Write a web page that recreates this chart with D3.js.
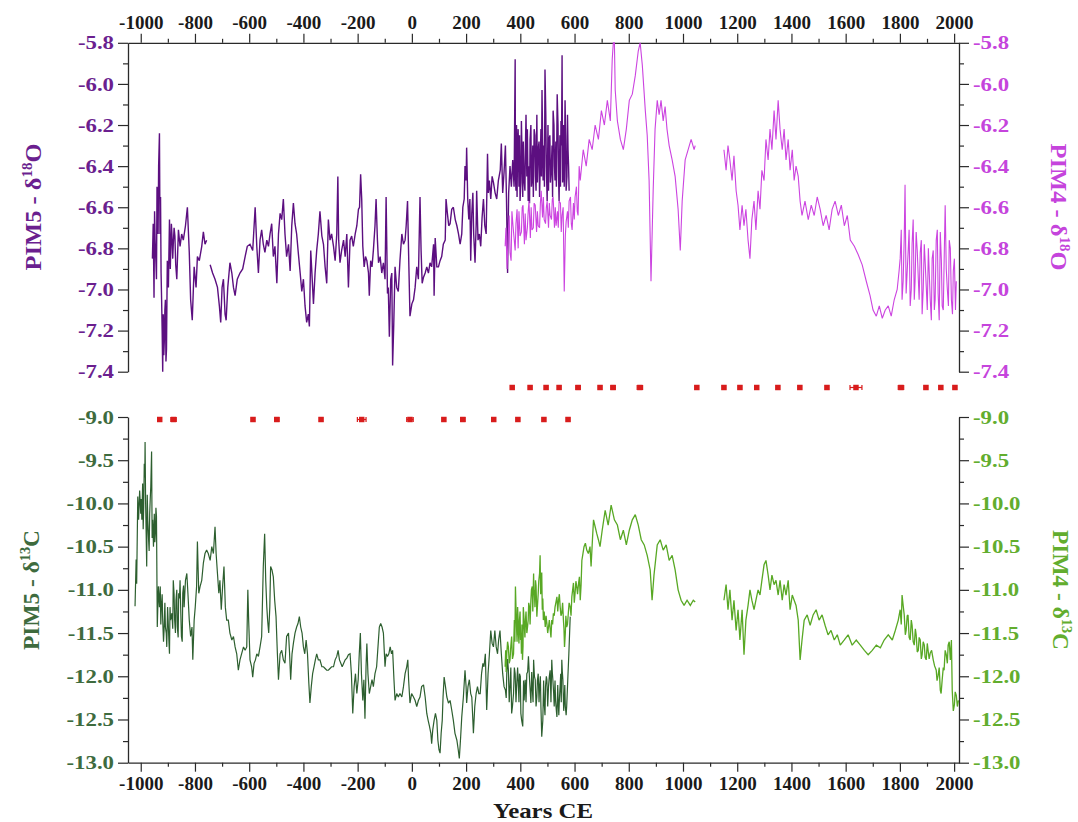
<!DOCTYPE html>
<html><head><meta charset="utf-8">
<script src="https://cdn.jsdelivr.net/npm/d3@7"></script>
<style>
body{margin:0;background:#fff;}
svg{display:block;font-family:"Liberation Serif","Times New Roman",serif;font-weight:bold;}
</style></head><body><svg id="c" width="1078" height="822"></svg>
<script>
// ---------------- DATA ----------------
const xMajorTicks = d3.range(-1000, 2001, 200);
const xMinorTicks = d3.range(-900, 2001, 200);
const o18Ticks = [-5.8,-6.0,-6.2,-6.4,-6.6,-6.8,-7.0,-7.2,-7.4];
const o18Minor = [-5.9,-6.1,-6.3,-6.5,-6.7,-6.9,-7.1,-7.3];
const c13Ticks = [-9.0,-9.5,-10.0,-10.5,-11.0,-11.5,-12.0,-12.5,-13.0];
const c13Minor = [-9.25,-9.75,-10.25,-10.75,-11.25,-11.75,-12.25,-12.75];

// PIM5 d18O [year CE, permil]
const pim5_d18O = [[-954,-6.68],[-951,-7.04],[-947,-6.76],[-944,-6.87],[-940,-6.50],[-936,-6.73],[-934,-6.40],[-931,-6.24],[-929,-6.73],[-925,-6.92],[-921,-7.20],[-919,-7.40],[-917,-7.12],[-913,-7.25],[-909,-7.05],[-905,-7.29],[-902,-6.86],[-898,-6.99],[-894,-6.66],[-889,-6.79],[-885,-6.73],[-880,-6.78],[-874,-6.74],[-867,-6.95],[-861,-6.71],[-855,-6.79],[-849,-6.73],[-843,-6.76],[-835,-6.69],[-828,-6.60],[-821,-6.82],[-816,-7.05],[-810,-7.15],[-803,-6.89],[-796,-6.99],[-791,-6.84],[-784,-6.86],[-775,-6.79],[-769,-6.72],[-763,-6.78],[-757,-6.76],[-750,null],
[-744,-6.88],[-735,-6.92],[-726,-6.95],[-717,-6.99],[-710,-7.08],[-705,-7.16],[-700,-6.99],[-695,-6.95],[-689,-7.12],[-685,-7.15],[-679,-6.99],[-671,-6.87],[-664,-6.92],[-658,-6.99],[-652,-7.03],[-644,-6.95],[-634,-6.92],[-624,-6.90],[-615,-6.84],[-607,-6.79],[-597,-6.78],[-587,-6.81],[-578,-6.60],[-572,-6.79],[-566,-6.92],[-560,-6.76],[-554,-6.71],[-548,-6.78],[-542,-6.82],[-535,-6.76],[-529,-6.79],[-523,-6.73],[-517,-6.68],[-511,-6.84],[-505,-6.79],[-498,-6.97],[-492,-6.73],[-486,-6.63],[-480,-6.66],[-474,-6.56],[-468,-6.73],[-462,-6.84],[-455,-6.78],[-449,-6.91],[-443,-6.69],[-437,-6.58],[-431,-6.68],[-425,-6.73],[-419,-6.82],[-412,-6.92],[-406,-7.01],[-400,-6.95],[-394,-7.08],[-388,-7.16],[-382,-7.12],[-378,-7.18],[-373,-6.81],[-368,-6.94],[-363,-7.07],[-357,-6.92],[-351,-6.81],[-345,-6.73],[-339,-6.62],[-332,-6.74],[-326,-6.78],[-320,-6.89],[-314,-6.97],[-308,-6.66],[-302,-6.76],[-296,-6.73],[-289,-6.79],[-283,-6.86],[-277,-6.73],[-273,-6.45],[-270,-6.76],[-265,-6.87],[-259,-6.81],[-252,-6.76],[-246,-6.84],[-240,-6.73],[-234,-6.99],[-228,-6.76],[-222,-6.74],[-216,-6.79],[-209,-6.73],[-203,-6.69],[-197,-6.61],[-193,-6.60],[-189,-6.44],[-185,-6.56],[-181,-6.79],[-176,-6.89],[-171,-6.84],[-166,-6.86],[-160,-6.92],[-157,-7.03],[-152,-6.86],[-147,-6.89],[-142,-6.81],[-136,-6.69],[-132,-6.56],[-127,-6.76],[-123,-6.87],[-117,-6.84],[-111,-6.92],[-105,-6.87],[-99,-6.95],[-95,-6.55],[-90,-7.02],[-87,-6.99],[-83,-7.23],[-78,-6.95],[-74,-6.92],[-71,-7.37],[-67,-7.18],[-62,-6.89],[-56,-6.99],[-50,-7.01],[-44,-6.86],[-37,-6.73],[-31,-6.78],[-25,-6.76],[-21,-6.69],[-16,-6.57],[-11,-6.89],[-7,-7.13],[0,-7.07],[6,-7.05],[12,-6.99],[18,-6.89],[24,-6.95],[30,-6.55],[34,-6.81],[38,-6.97],[43,-6.94],[49,-6.92],[55,-6.89],[61,-6.92],[67,-6.87],[73,-6.89],[80,-6.78],[82,-7.03],[86,-6.75],[92,-6.89],[98,-6.89],[104,-6.86],[110,-6.84],[116,-6.78],[123,-6.76],[126,-6.56],[131,-6.63],[136,-6.69],[141,-6.68],[147,-6.61],[153,-6.60],[160,-6.66],[166,-6.69],[172,-6.73],[178,-6.78],[184,-6.73],[188,-6.60],[193,-6.56],[196,-6.40],[200,-6.47],[202,-6.31],[206,-6.56],[210,-6.66],[214,-6.56],[217,-6.86],[221,-6.63],[225,-6.53],[228,-6.73],[233,-6.87],[237,-6.69],[239,-6.52],[244,-6.76],[249,-6.73],[254,-6.79],[259,-6.65],[264,-6.56],[269,-6.69],[274,-6.73],[279,-6.34],[282,-6.53],[286,-6.47],[291,-6.56],[296,-6.45],[301,-6.48],[307,-6.53],[313,-6.56],[319,-6.47],[326,-6.42],[330,-6.29],[335,-6.53],[340,-6.43],[345,-6.30],[349,-6.56],[353,-6.92],[357,-6.53],[362,-6.40],[367,-6.50],[372,-6.37],[377,-6.50],[381,-5.88],[384,-6.52],[392,-6.22],[399,-6.57],[406,-6.32],[414,-6.47],[421,-6.15],[429,-6.57],[436,-6.27],[443,-6.47],[451,-6.22],[458,-6.52],[466,-6.32],[473,-6.42],[480,-6.03],[484,-6.47],[491,-5.93],[499,-6.57],[506,-6.27],[514,-6.42],[521,-6.13],[528,-6.47],[536,-6.05],[543,-6.57],[550,-6.18],[554,-5.86],[558,-6.42],[565,-6.08],[569,-6.52],[576,-6.32],[580,-6.52]];
// extra readings in the densely sampled parts of PIM5 d18O
const pim5_d18O_dense = [[-957,-6.85],[-949,-6.62],[-942,-6.95],[-938,-6.60],[-927,-6.55],[-923,-7.05],[-915,-7.32],[-911,-7.10],[-907,-7.35],[-903,-7.00],[-896,-6.82],[-891,-6.90],[-887,-6.68],[-882,-6.85],[-877,-6.70],[-871,-6.88],[382,-6.45],[386,-6.20],[388,-6.55],[390,-6.30],[395,-6.50],[397,-6.25],[402,-6.48],[404,-6.18],[409,-6.55],[411,-6.28],[417,-6.52],[419,-6.30],[424,-6.45],[426,-6.22],[432,-6.40],[434,-6.58],[439,-6.20],[441,-6.50],[446,-6.30],[448,-6.55],[454,-6.25],[456,-6.45],[461,-6.15],[463,-6.48],[469,-6.28],[471,-6.55],[476,-6.22],[478,-6.45],[487,-6.30],[489,-6.50],[494,-6.15],[496,-6.40],[502,-6.20],[504,-6.52],[509,-6.25],[511,-6.48],[517,-6.30],[519,-6.55],[524,-6.20],[526,-6.40],[531,-6.28],[533,-6.50],[539,-6.20],[541,-6.45],[546,-6.25],[548,-6.50],[552,-6.30],[556,-6.48],[560,-6.20],[562,-6.50],[567,-6.25],[572,-6.45],[574,-6.15],[578,-6.40]];

// PIM4 d18O
const pim4_d18O = [[344,-6.79],[351,-6.90],[359,-6.64],[366,-6.86],[373,-6.69],[381,-6.81],[388,-6.61],[399,-6.74],[410,-6.59],[421,-6.76],[432,-6.57],[443,-6.71],[455,-6.59],[466,-6.69],[477,-6.52],[488,-6.66],[499,-6.57],[510,-6.64],[521,-6.55],[532,-6.69],[543,-6.57],[554,-6.64],[562,-7.01],[569,-6.67],[580,-6.57],[591,-6.71],[602,-6.55],[613,-6.64],[621,-6.47],[632,-6.32],[643,-6.40],[654,-6.27],[665,-6.32],[676,-6.20],[688,-6.27],[699,-6.13],[710,-6.20],[721,-6.08],[732,-6.18],[739,-5.88],[743,-5.80],[747,-5.80],[750,-6.03],[758,-6.18],[769,-6.27],[780,-6.32],[791,-6.22],[802,-6.08],[813,-6.05],[824,-5.96],[835,-5.84],[842,-5.80],[850,-5.91],[861,-6.13],[868,-6.25],[875,-6.47],[882,-6.96],[890,-6.52],[897,-6.22],[905,-6.08],[912,-6.15],[919,-6.08],[927,-6.18],[934,-6.11],[941,-6.22],[949,-6.30],[960,-6.37],[971,-6.45],[982,-6.61],[990,-6.81],[997,-6.57],[1008,-6.37],[1019,-6.32],[1030,-6.27],[1041,-6.32],[1045,-6.30],[1100,null],
[1151,-6.32],[1159,-6.42],[1166,-6.30],[1173,-6.37],[1181,-6.47],[1188,-6.35],[1196,-6.52],[1203,-6.59],[1210,-6.71],[1218,-6.59],[1225,-6.69],[1232,-6.61],[1240,-6.76],[1247,-6.85],[1254,-6.66],[1262,-6.57],[1269,-6.71],[1277,-6.52],[1284,-6.61],[1291,-6.42],[1299,-6.47],[1306,-6.27],[1314,-6.37],[1321,-6.22],[1328,-6.32],[1336,-6.13],[1343,-6.27],[1351,-6.08],[1358,-6.22],[1366,-6.32],[1373,-6.22],[1380,-6.37],[1388,-6.27],[1395,-6.42],[1403,-6.32],[1410,-6.47],[1417,-6.40],[1425,-6.45],[1432,-6.57],[1439,-6.64],[1450,-6.57],[1462,-6.66],[1473,-6.59],[1484,-6.64],[1495,-6.55],[1506,-6.61],[1517,-6.69],[1528,-6.64],[1539,-6.71],[1550,-6.61],[1561,-6.57],[1573,-6.64],[1584,-6.59],[1595,-6.69],[1606,-6.64],[1617,-6.76],[1632,-6.79],[1646,-6.83],[1661,-6.88],[1676,-6.96],[1690,-7.03],[1701,-7.10],[1713,-7.13],[1724,-7.08],[1735,-7.14],[1746,-7.10],[1757,-7.08],[1768,-7.13],[1779,-7.05],[1790,-7.00],[1797,-6.91],[1805,-6.71],[1812,-6.96],[1819,-6.49],[1827,-6.91],[1834,-6.71],[1842,-7.00],[1849,-6.66],[1856,-6.96],[1864,-6.81],[1871,-7.05],[1879,-6.76],[1886,-7.00],[1893,-6.86],[1901,-7.10],[1908,-6.91],[1916,-7.15],[1923,-6.81],[1930,-7.05],[1938,-6.71],[1945,-7.15],[1953,-6.86],[1960,-7.10],[1967,-6.59],[1975,-7.00],[1982,-6.76],[1990,-7.05],[1997,-6.91],[2005,-7.10],[2008,-6.96]];
const pim4_d18O_dense = [[347,-6.70],[355,-6.75],[362,-6.82],[369,-6.62],[377,-6.75],[384,-6.68],[392,-6.80],[395,-6.62],[404,-6.72],[407,-6.60],[415,-6.78],[418,-6.63],[426,-6.70],[429,-6.62],[437,-6.75],[440,-6.60],[448,-6.70],[451,-6.58],[460,-6.72],[463,-6.62],[471,-6.70],[474,-6.58],[482,-6.65],[485,-6.55],[493,-6.68],[496,-6.60],[504,-6.70],[507,-6.58],[515,-6.66],[518,-6.56],[526,-6.70],[529,-6.60],[537,-6.62],[540,-6.70],[548,-6.58],[551,-6.72],[558,-6.60],[566,-6.74],[574,-6.62],[577,-6.70],[585,-6.55],[588,-6.68],[596,-6.58],[599,-6.66],[607,-6.50],[610,-6.62],[617,-6.40],[1801,-6.85],[1808,-7.05],[1816,-6.75],[1823,-7.02],[1831,-6.80],[1838,-7.08],[1845,-6.78],[1853,-7.05],[1860,-6.72],[1868,-6.95],[1875,-6.82],[1882,-7.12],[1890,-6.78],[1897,-6.98],[1905,-6.80],[1912,-7.05],[1919,-6.85],[1927,-7.10],[1934,-6.76],[1941,-7.02],[1949,-6.72],[1956,-7.08],[1964,-6.80],[1971,-6.90],[1979,-7.08],[1986,-6.80],[1994,-7.12],[2001,-6.85]];

// PIM5 d13C
const pim5_d13C = [[-1021,-11.19],[-1017,-10.65],[-1015,-10.93],[-1011,-9.92],[-1008,-10.19],[-1004,-9.85],[-1000,-10.12],[-996,-10.19],[-993,-9.77],[-989,-10.04],[-987,-9.54],[-984,-9.29],[-982,-10.00],[-978,-10.73],[-974,-10.19],[-971,-10.42],[-967,-10.12],[-963,-9.81],[-960,-9.40],[-956,-10.19],[-953,-10.50],[-950,-10.12],[-946,-10.35],[-942,-10.15],[-939,-11.43],[-935,-10.96],[-931,-11.20],[-928,-10.96],[-924,-11.20],[-919,-11.35],[-914,-11.47],[-909,-11.43],[-904,-11.66],[-899,-11.35],[-894,-11.74],[-890,-11.35],[-885,-11.27],[-880,-10.89],[-875,-11.35],[-870,-11.12],[-865,-11.43],[-860,-11.04],[-855,-10.89],[-850,-11.54],[-845,-11.04],[-840,-11.20],[-835,-10.89],[-830,-10.81],[-826,-11.04],[-821,-11.35],[-816,-11.54],[-811,-11.43],[-808,-11.81],[-803,-11.35],[-799,-11.20],[-794,-10.96],[-791,-10.44],[-786,-11.04],[-781,-10.96],[-775,-10.89],[-769,-10.69],[-763,-10.58],[-757,-10.54],[-751,-10.58],[-744,-10.66],[-738,-10.50],[-732,-10.58],[-726,-10.27],[-722,-10.58],[-717,-10.81],[-712,-11.04],[-708,-10.89],[-703,-11.23],[-698,-10.96],[-693,-10.73],[-688,-11.20],[-683,-11.35],[-677,-11.35],[-671,-11.50],[-664,-11.58],[-658,-11.54],[-652,-11.66],[-646,-11.74],[-640,-11.93],[-634,-11.81],[-628,-11.74],[-621,-11.66],[-615,-11.70],[-609,-11.66],[-605,-11.00],[-602,-11.35],[-597,-11.81],[-591,-11.89],[-587,-12.01],[-582,-11.85],[-577,-11.81],[-572,-11.74],[-566,-11.77],[-560,-11.66],[-554,-11.54],[-548,-10.73],[-543,-10.35],[-539,-10.89],[-535,-11.20],[-532,-11.35],[-528,-11.50],[-524,-11.20],[-521,-10.73],[-516,-10.77],[-511,-10.85],[-506,-11.12],[-501,-11.31],[-496,-11.74],[-492,-12.04],[-486,-11.74],[-480,-11.70],[-474,-11.81],[-468,-11.85],[-462,-11.54],[-455,-11.50],[-451,-11.74],[-447,-12.04],[-442,-11.74],[-437,-11.62],[-431,-11.50],[-425,-11.43],[-420,-11.39],[-415,-11.31],[-410,-11.43],[-405,-11.50],[-400,-11.66],[-395,-11.74],[-390,-11.58],[-385,-11.74],[-380,-12.08],[-376,-12.31],[-371,-12.12],[-366,-11.97],[-361,-11.89],[-356,-11.81],[-351,-11.74],[-345,-11.81],[-339,-11.81],[-332,-11.89],[-326,-11.89],[-320,-11.91],[-314,-11.93],[-308,-11.93],[-302,-11.91],[-296,-11.89],[-289,-11.89],[-283,-11.81],[-277,-11.77],[-272,-11.70],[-267,-11.81],[-262,-11.85],[-257,-11.89],[-246,-11.81],[-240,-11.79],[-234,-11.75],[-228,-11.74],[-223,-11.97],[-218,-12.43],[-213,-12.12],[-208,-11.97],[-203,-12.20],[-198,-12.04],[-194,-11.74],[-190,-11.50],[-186,-11.97],[-181,-12.28],[-177,-12.04],[-173,-12.49],[-169,-11.89],[-166,-11.62],[-162,-11.97],[-157,-12.20],[-152,-12.12],[-147,-12.04],[-142,-12.12],[-136,-11.97],[-130,-11.89],[-125,-11.66],[-120,-11.43],[-115,-11.39],[-110,-11.43],[-105,-11.50],[-99,-11.89],[-95,-11.74],[-90,-11.77],[-85,-11.74],[-80,-11.66],[-75,-11.74],[-71,-11.70],[-66,-12.04],[-62,-12.28],[-56,-12.20],[-50,-12.24],[-44,-12.20],[-37,-12.24],[-31,-12.12],[-25,-11.97],[-19,-11.89],[-15,-11.81],[-12,-12.04],[-7,-12.31],[-1,-12.20],[6,-12.24],[12,-12.28],[18,-12.35],[24,-12.28],[30,-12.24],[36,-12.12],[43,-12.10],[49,-12.24],[55,-12.43],[60,-12.51],[65,-12.58],[70,-12.66],[73,-12.78],[77,-12.62],[82,-12.51],[87,-12.43],[92,-12.51],[96,-12.74],[100,-12.85],[104,-12.89],[108,-12.66],[112,-12.51],[115,-12.24],[119,-12.01],[124,-12.12],[129,-12.24],[135,-12.31],[141,-12.28],[147,-12.39],[153,-12.51],[159,-12.66],[166,-12.74],[171,-12.85],[175,-12.95],[180,-12.70],[184,-12.47],[190,-12.24],[196,-11.93],[200,-12.12],[202,-12.31],[207,-12.12],[212,-12.04],[217,-12.20],[221,-12.24],[225,-12.51],[227,-12.66],[232,-12.35],[237,-12.20],[242,-12.12],[247,-12.20],[252,-12.20],[257,-11.97],[262,-11.85],[266,-11.89],[271,-11.74],[276,-12.39],[281,-11.97],[286,-11.74],[291,-11.47],[296,-11.62],[301,-11.66],[306,-11.47],[311,-11.66],[316,-11.74],[320,-11.58],[325,-11.47],[330,-11.74],[335,-11.97],[340,-12.12],[345,-12.16],[350,-11.97],[356,-11.93],[362,-12.12],[368,-12.43],[375,-12.20],[381,-11.97],[387,-12.08],[393,-12.12],[397,-11.97],[402,-12.43],[405,-12.51],[409,-12.58],[414,-12.28],[418,-12.04],[424,-11.97],[430,-11.77],[434,-12.04],[439,-12.31],[444,-12.12],[449,-11.81],[455,-12.04],[461,-12.24],[466,-11.97],[471,-12.12],[476,-12.35],[479,-12.70],[483,-12.51],[488,-12.31],[493,-12.12],[498,-12.04],[504,-12.12],[510,-11.93],[516,-11.81],[520,-12.04],[525,-12.35],[530,-12.28],[535,-12.47],[540,-12.31],[544,-12.28],[549,-11.97],[553,-11.81],[557,-12.04],[562,-12.28],[566,-12.35],[571,-12.35],[575,-12.04],[579,-11.74],[584,-11.31]];
const pim5_d13C_dense = [[-998,-9.95],[-991,-10.30],[-985,-9.70],[-980,-10.35],[-976,-9.90],[-969,-10.55],[-965,-9.95],[-958,-10.40],[-948,-10.45],[-944,-10.05],[-926,-11.40],[-921,-11.05],[-916,-11.60],[-911,-11.15],[-906,-11.50],[-901,-11.20],[-896,-11.60],[-892,-11.20],[-882,-11.45],[-877,-11.05],[-872,-11.50],[-867,-11.00],[-862,-11.55],[-857,-11.10],[-852,-11.30],[-847,-11.60],[-842,-10.95],[348,-12.25],[353,-11.80],[359,-12.30],[365,-11.90],[371,-12.35],[378,-11.90],[384,-12.30],[390,-11.90],[395,-12.30],[400,-12.00],[412,-12.05],[421,-12.30],[427,-11.95],[437,-12.20],[442,-11.95],[447,-12.30],[452,-12.00],[458,-12.35],[463,-12.05],[469,-12.30],[474,-12.00],[486,-12.05],[491,-12.45],[496,-12.00],[501,-12.35],[507,-12.00],[513,-12.30],[518,-11.95],[523,-12.20],[528,-12.05],[533,-12.40],[538,-12.10],[542,-12.45],[547,-12.10],[551,-12.30],[555,-11.95],[560,-12.40],[564,-12.10],[569,-12.45],[573,-12.20]];

// PIM4 d13C
const pim4_d13C = [[344,-11.89],[350,-11.74],[356,-11.66],[362,-11.81],[368,-11.54],[375,-11.74],[378,-11.35],[382,-10.96],[386,-11.43],[390,-11.20],[393,-11.50],[397,-11.35],[401,-11.58],[404,-11.74],[408,-11.81],[411,-11.20],[415,-11.43],[419,-11.35],[424,-11.50],[429,-11.35],[434,-11.20],[439,-11.12],[444,-10.96],[449,-10.81],[452,-11.04],[456,-10.89],[461,-11.31],[466,-11.04],[471,-10.81],[473,-10.60],[477,-10.89],[481,-11.23],[485,-11.35],[492,-11.43],[498,-11.39],[504,-11.43],[510,-11.45],[516,-11.35],[522,-11.27],[528,-11.20],[535,-11.08],[541,-11.12],[547,-11.20],[553,-11.27],[559,-11.35],[563,-11.66],[566,-11.50],[571,-11.43],[577,-11.27],[584,-11.20],[590,-11.08],[596,-10.92],[602,-11.04],[608,-10.96],[615,-10.92],[621,-11.12],[627,-10.66],[631,-10.58],[635,-10.50],[640,-10.46],[645,-10.54],[651,-10.58],[657,-10.50],[661,-10.73],[666,-10.42],[670,-10.19],[676,-10.27],[682,-10.35],[688,-10.42],[694,-10.50],[702,-10.31],[713,-10.08],[724,-10.25],[735,-10.02],[747,-10.19],[758,-10.25],[769,-10.42],[780,-10.31],[791,-10.48],[802,-10.31],[813,-10.19],[824,-10.13],[835,-10.25],[846,-10.42],[857,-10.48],[868,-10.60],[879,-10.77],[886,-11.12],[893,-10.83],[905,-10.48],[916,-10.42],[927,-10.54],[938,-10.48],[949,-10.66],[960,-10.60],[971,-10.77],[982,-11.00],[993,-11.12],[1004,-11.18],[1015,-11.12],[1027,-11.18],[1038,-11.12],[1045,-11.14],[1100,null],
[1151,-11.12],[1159,-10.94],[1166,-11.23],[1173,-11.00],[1181,-11.35],[1188,-11.12],[1196,-11.47],[1203,-11.23],[1210,-11.58],[1218,-11.23],[1225,-11.75],[1232,-11.35],[1240,-11.18],[1247,-11.00],[1254,-11.12],[1262,-11.23],[1269,-11.12],[1277,-11.00],[1284,-11.06],[1291,-10.89],[1299,-10.71],[1306,-10.66],[1314,-10.83],[1321,-11.00],[1328,-10.83],[1336,-10.94],[1343,-10.89],[1351,-11.06],[1358,-10.89],[1366,-11.12],[1373,-10.94],[1380,-11.06],[1388,-10.89],[1395,-11.23],[1403,-11.06],[1410,-11.12],[1417,-11.18],[1425,-11.35],[1432,-11.81],[1439,-11.58],[1447,-11.35],[1458,-11.29],[1469,-11.41],[1480,-11.29],[1491,-11.23],[1502,-11.35],[1513,-11.29],[1524,-11.41],[1535,-11.52],[1546,-11.47],[1558,-11.58],[1569,-11.52],[1580,-11.64],[1595,-11.58],[1609,-11.52],[1624,-11.64],[1639,-11.58],[1654,-11.64],[1669,-11.70],[1683,-11.75],[1698,-11.70],[1713,-11.64],[1728,-11.67],[1742,-11.58],[1757,-11.52],[1772,-11.58],[1783,-11.47],[1794,-11.35],[1801,-11.23],[1808,-11.06],[1816,-11.29],[1823,-11.47],[1830,-11.29],[1838,-11.58],[1845,-11.41],[1853,-11.64],[1860,-11.52],[1868,-11.70],[1875,-11.58],[1882,-11.75],[1890,-11.64],[1897,-11.81],[1904,-11.70],[1912,-11.73],[1923,-11.81],[1934,-11.93],[1941,-11.99],[1949,-12.16],[1956,-12.04],[1963,-11.93],[1971,-11.75],[1978,-11.64],[1986,-11.81],[1990,-11.58],[1993,-12.16],[2001,-12.33],[2008,-12.22],[2016,-12.28]];
const pim4_d13C_dense = [[346,-11.70],[348,-11.95],[353,-11.60],[359,-11.85],[365,-11.65],[371,-11.80],[380,-11.60],[384,-11.20],[388,-11.60],[392,-11.35],[395,-11.62],[399,-11.25],[403,-11.55],[406,-11.40],[410,-11.65],[413,-11.30],[417,-11.55],[421,-11.25],[426,-11.45],[431,-11.15],[436,-11.40],[441,-11.00],[446,-11.25],[450,-11.00],[454,-11.20],[458,-10.95],[463,-11.20],[468,-10.90],[475,-11.05],[479,-10.80],[483,-11.10],[488,-11.25],[495,-11.30],[501,-11.50],[507,-11.35],[513,-11.55],[519,-11.40],[525,-11.30],[531,-11.15],[538,-11.25],[544,-11.05],[550,-11.30],[556,-11.15],[561,-11.45],[568,-11.30],[574,-11.40],[580,-11.15],[587,-11.30],[593,-11.00],[599,-11.15],[605,-10.90],[611,-11.05],[618,-10.85],[624,-10.95],[1805,-11.40],[1812,-11.18],[1820,-11.52],[1827,-11.30],[1834,-11.55],[1842,-11.35],[1849,-11.60],[1857,-11.45],[1864,-11.72],[1871,-11.55],[1879,-11.80],[1886,-11.60],[1893,-11.78],[1901,-11.62],[1908,-11.80],[1917,-11.70],[1928,-11.88],[1937,-12.05],[1945,-11.90],[1952,-12.20],[1960,-11.90],[1967,-11.70],[1975,-11.85],[1982,-11.60],[1997,-12.40],[2004,-12.18],[2012,-12.35]];

// U-Th dates (year CE) and 2-sigma errors (years)
const pim4_dates = [370,436,495,543,613,694,742,841,1051,1151,1210,1272,1350,1431,1531,1638,1804,1896,1951,2003];
const pim4_dateErr = [6,6,6,6,8,6,8,10,6,6,6,6,6,6,6,22,10,6,6,6];
const pim5_dates = [-930,-879,-586,-498,-335,-185,-7,118,188,302,391,487,576];
const pim5_dateErr = [6,10,6,8,6,16,12,6,8,6,6,6,6];

// ---------------- DRAWING ----------------
const svg = d3.select("#c");
const L = 128, R = 959;
const x = d3.scaleLinear().domain([-1047, 2018]).range([L, R]);
const yTop = d3.scaleLinear().domain([-7.4, -5.8]).range([371.7, 42.8]);
const yBot = d3.scaleLinear().domain([-13, -9]).range([762.7, 417]);

const C = {
  p5O: "#5c0f80", p5Olab: "#6b1f8f",
  p4O: "#cc44e0", p4Olab: "#c544dc",
  p5C: "#2d5f2f", p5Clab: "#3e6b3e",
  p4C: "#58a824", p4Clab: "#62ad2e",
  axis: "#2a2a2a", date: "#d81c1c"
};
const merge = (a, b) => a.concat(b).sort((p, q) => p[0] - q[0]);

function stretch(sel, f){
  sel.each(function(){
    const n = this.getComputedTextLength();
    this.setAttribute("textLength", (n*f).toFixed(1));
    this.setAttribute("lengthAdjust", "spacingAndGlyphs");
  });
}
function styleAxis(g, color, fs){
  g.select(".domain").attr("stroke", C.axis).attr("stroke-width", 1.3);
  g.selectAll(".tick line").attr("stroke", C.axis).attr("stroke-width", 1.2);
  g.selectAll("text").attr("fill", color).style("font-size", fs + "px")
    .style("font-family", '"Liberation Serif","Times New Roman",serif').style("font-weight", "bold");
}
const fmtX = d => String(d);
const fmtY = d => d.toFixed(1);

// X axes
const gTopX = svg.append("g").attr("transform", "translate(0,42.8)")
  .call(d3.axisTop(x).tickValues(xMajorTicks).tickFormat(fmtX).tickSize(9).tickSizeOuter(0).tickPadding(5));
styleAxis(gTopX, "#1a1a1a", 19);
svg.append("g").attr("transform", "translate(0,42.8)")
  .call(d3.axisTop(x).tickValues(xMinorTicks).tickFormat("").tickSize(4).tickSizeOuter(0))
  .call(g => { g.select(".domain").remove(); g.selectAll("line").attr("stroke", C.axis).attr("stroke-width", 1.2); });

const gBotX = svg.append("g").attr("transform", "translate(0,762.7)")
  .call(d3.axisBottom(x).tickValues(xMajorTicks).tickFormat(fmtX).tickSize(9).tickSizeOuter(0).tickPadding(5));
styleAxis(gBotX, "#1a1a1a", 19);
svg.append("g").attr("transform", "translate(0,762.7)")
  .call(d3.axisBottom(x).tickValues(xMinorTicks).tickFormat("").tickSize(4).tickSizeOuter(0))
  .call(g => { g.select(".domain").remove(); g.selectAll("line").attr("stroke", C.axis).attr("stroke-width", 1.2); });

// Y axes helper
function yAxis(scale, side, major, minor, color){
  const ax = side === "left" ? d3.axisLeft : d3.axisRight;
  const g = svg.append("g").attr("transform", `translate(${side === "left" ? L : R},0)`)
    .call(ax(scale).tickValues(major).tickFormat(fmtY).tickSize(10).tickSizeOuter(0).tickPadding(4));
  styleAxis(g, color, 19);
  stretch(g.selectAll("text"), 1.2);
  svg.append("g").attr("transform", `translate(${side === "left" ? L : R},0)`)
    .call(ax(scale).tickValues(minor).tickFormat("").tickSize(5).tickSizeOuter(0))
    .call(gg => { gg.select(".domain").remove(); gg.selectAll("line").attr("stroke", C.axis).attr("stroke-width", 1.2); });
}
yAxis(yTop, "left", o18Ticks, o18Minor, C.p5Olab);
yAxis(yTop, "right", o18Ticks, o18Minor, C.p4Olab);
yAxis(yBot, "left", c13Ticks, c13Minor, C.p5Clab);
yAxis(yBot, "right", c13Ticks, c13Minor, C.p4Clab);

// Series
function drawSeries(data, yS, color, w){
  const line = d3.line().defined(d => d[1] !== null).x(d => x(d[0])).y(d => yS(d[1]));
  svg.append("path").datum(data).attr("d", line)
    .attr("fill", "none").attr("stroke", color).attr("stroke-width", w)
    .attr("stroke-linejoin", "miter").attr("stroke-miterlimit", 2);
}
drawSeries(merge(pim5_d18O, pim5_d18O_dense), yTop, C.p5O, 1.4);
drawSeries(merge(pim4_d18O, pim4_d18O_dense), yTop, C.p4O, 1.1);
drawSeries(merge(pim5_d13C, pim5_d13C_dense), yBot, C.p5C, 1.2);
drawSeries(merge(pim4_d13C, pim4_d13C_dense), yBot, C.p4C, 1.3);

// Dates with error bars
function drawDates(dates, errs, yPix){
  const g = svg.append("g");
  dates.forEach((d, i) => {
    const cx = x(d), e = errs[i];
    g.append("line").attr("x1", x(d - e)).attr("x2", x(d + e)).attr("y1", yPix).attr("y2", yPix)
      .attr("stroke", C.date).attr("stroke-width", 1.2);
    [d - e, d + e].forEach(v => g.append("line").attr("x1", x(v)).attr("x2", x(v))
      .attr("y1", yPix - 2.5).attr("y2", yPix + 2.5).attr("stroke", C.date).attr("stroke-width", 1.2));
    g.append("path").attr("transform", `translate(${cx},${yPix})`)
      .attr("d", d3.symbol(d3.symbolSquare, 30)()).attr("fill", C.date);
  });
}
drawDates(pim4_dates, pim4_dateErr, 387.5);
drawDates(pim5_dates, pim5_dateErr, 419.5);

// Axis titles
function vLabel(cx, cy, rot, color, main, sup, tail, len){
  const t = svg.append("text").attr("transform", `translate(${cx},${cy}) rotate(${rot})`)
    .attr("text-anchor", "middle").attr("fill", color)
    .style("font-size", "23px").style("font-weight", "bold");
  t.append("tspan").text(main);
  t.append("tspan").text(sup).attr("dy", -9).style("font-size", "14px");
  t.append("tspan").text(tail).attr("dy", 9);
  t.attr("textLength", len).attr("lengthAdjust", "spacingAndGlyphs");
}
vLabel(41, 207, -90, C.p5Olab, "PIM5 - δ", "18", "O", 127);
vLabel(1051, 207, 90, C.p4Olab, "PIM4 - δ", "18", "O", 127);
vLabel(39, 590, -90, C.p5Clab, "PIM5 - δ", "13", "C", 120);
vLabel(1053, 590, 90, C.p4Clab, "PIM4 - δ", "13", "C", 120);

const xt = svg.append("text").attr("x", 543).attr("y", 818).attr("text-anchor", "middle")
  .attr("fill", "#1a1a1a").style("font-size", "21px").style("font-weight", "bold").text("Years CE");
xt.attr("textLength", 100).attr("lengthAdjust", "spacingAndGlyphs");
</script></body></html>
